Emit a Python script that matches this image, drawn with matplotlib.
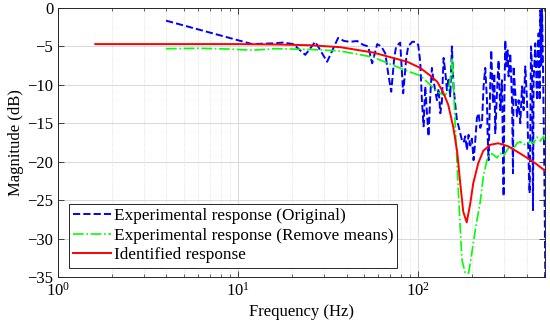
import matplotlib
matplotlib.use("Agg")
import matplotlib.pyplot as plt
from matplotlib.ticker import LogLocator, NullFormatter

plt.rcParams["font.family"] = ["Liberation Serif", "DejaVu Serif"]
plt.rcParams["mathtext.fontset"] = "stix"
plt.rcParams["axes.unicode_minus"] = True

# Experimental response (Original)
freq_orig = [
    3.98, 11.97, 13.6, 15.6, 17.8, 20.2, 23.6, 26.8, 31.2, 35.9, 38.8, 41.9, 45.8,
    49.5, 52.7, 55.5, 59.2, 62.3, 65.6, 68.1, 70.8, 73.6, 75.4, 79.4, 82.5, 85.8,
    88.0, 92.6, 96.2, 100.0, 102.6, 104.8, 107.1, 109.4, 111.7, 114.1, 116.6, 119.1,
    121.6, 127.0, 129.8, 132.6, 135.3, 138.3, 141.3, 144.3, 147.3, 150.6, 153.8,
    157.0, 160.6, 164.0, 167.5, 171.1, 174.9, 178.6, 182.4, 186.4, 190.3, 194.5,
    198.6, 202.9, 207.3, 211.8, 216.3, 221.0, 225.9, 230.6, 235.6, 240.8, 242.7,
    245.8, 251.2, 254.4, 260.0, 264.4, 267.8, 273.6, 279.3, 285.4, 291.7, 297.8,
    300.5, 304.3, 308.3, 313.4, 317.5, 324.4, 331.6, 335.9, 338.4, 345.9, 353.4,
    360.8, 368.7, 376.8, 384.6, 393.0, 401.7, 410.0, 415.3, 419.0, 422.8, 428.3,
    433.8, 437.1, 446.7, 456.5, 460.0, 465.9, 471.9, 476.2, 482.3, 486.7, 493.0,
    501.2, 507.6,
]
mag_orig = [
    -1.65, -4.7, -4.65, -4.6, -4.5, -4.7, -6.1, -4.4, -7.0, -3.9, -4.3, -4.4, -4.3,
    -4.8, -5.0, -7.2, -4.7, -5.0, -5.9, -8.5, -10.9, -6.5, -5.0, -4.5, -11.1, -6.5,
    -5.0, -4.4, -4.4, -4.8, -7.0, -12.0, -15.4, -10.2, -13.5, -16.7, -11.5, -7.8,
    -9.5, -12.0, -10.5, -13.7, -12.2, -6.5, -8.3, -10.7, -9.1, -11.5, -5.0,
    -10.2, -12.6, -14.6, -15.4, -16.3, -17.2, -17.5, -16.7, -18.5, -16.5, -17.9,
    -17.0, -19.8, -17.3, -14.3, -13.7, -15.6, -15.0, -10.2, -7.8, -12.0, -16.3,
    -19.8, -9.8, -5.5, -12.4, -8.5, -16.3, -11.1, -6.8, -13.3, -9.4, -24.5,
    -12.8, -4.2, -7.6, -5.5, -8.9, -5.9, -12.0, -21.5, -7.6, -11.1, -14.1,
    -12.0, -15.0, -10.2, -13.3, -7.6, -12.0, -19.8, -24.1, -16.3, -5.0, -7.6,
    -26.3, -9.4, -4.6, -12.0, -6.8, -3.3, -12.0, -0.3, -7.6, 0.5, -7.6,
    -20.6, -35.0,
]

# Experimental response (Remove means)
freq_rm = [
    3.98, 6.15, 9.03, 11.97, 16.1, 25.1, 36.9, 56.2, 69.9, 86.9, 102.6, 116.6,
    129.2, 140.6, 146.8, 152.2, 154.5, 160.6, 167.5, 174.9, 182.4, 190.3, 194.5,
    207.3, 221.0, 229.6, 240.8, 251.2, 262.0, 273.6, 285.4, 297.8, 310.8, 324.4,
    338.4, 353.4, 368.7, 384.6, 401.7, 419.0, 437.1, 456.5, 476.2, 497.0, 507.6,
]
mag_rm = [
    -5.3, -5.25, -5.35, -5.5, -5.3, -5.4, -5.6, -6.4, -7.3, -8.2, -8.8, -10.0,
    -11.0, -11.4, -10.8, -8.5, -6.5, -15.5, -24.5, -32.8, -34.5, -34.5, -33.2,
    -28.9, -25.2, -22.0, -19.8, -18.9, -19.1, -19.5, -18.9, -19.3, -18.5, -18.0,
    -18.3, -17.6, -17.4, -17.8, -17.6, -17.4, -17.6, -16.8, -17.3, -16.7, -17.5,
]

# Identified response
freq_id = [
    1.61, 3.24, 10.0, 16.1, 25.1, 36.9, 56.2, 69.9, 86.9, 102.6, 116.6, 127.5,
    137.7, 146.8, 156.5, 164.7, 171.1, 177.8, 185.9, 194.3, 202.1, 215.4, 229.6,
    251.2, 278.0, 316.2, 378.2, 446.7, 507.6,
]
mag_id = [
    -4.7, -4.7, -4.7, -4.75, -4.85, -5.1, -5.8, -6.4, -7.0, -7.8, -8.8, -9.6,
    -11.0, -12.6, -15.5, -18.8, -22.8, -26.5, -27.9, -25.5, -22.8, -20.2, -18.6,
    -17.8, -17.6, -18.0, -19.1, -20.2, -21.2,
]

fig = plt.figure(figsize=(5.5, 3.32), dpi=100)
ax = fig.add_axes([0.1055, 0.1657, 0.8855, 0.8103])

ax.semilogx(freq_orig, mag_orig, "--", color="#0000FF", lw=1.4,
            label="Experimental response (Original)")
ax.semilogx(freq_rm, mag_rm, "-.", color="#00FF00", lw=1.2,
            label="Experimental response (Remove means)")
ax.semilogx(freq_id, mag_id, "-", color="#FF0000", lw=1.4,
            label="Identified response")

ax.set_xlim(1, 506)
ax.set_ylim(-35, 0)
ax.set_yticks(range(-35, 1, 5))
ax.xaxis.set_major_locator(LogLocator(base=10, numticks=5))
ax.xaxis.set_minor_locator(LogLocator(base=10, subs=range(2, 10), numticks=20))
ax.xaxis.set_minor_formatter(NullFormatter())

ax.grid(True, which="major", color="#d9d9d9", lw=0.7, ls="-")
ax.grid(True, which="minor", axis="x", color="#d9d9d9", lw=0.6, ls=":")
ax.set_axisbelow(True)

ax.tick_params(which="both", direction="in", top=True, right=True,
               labelsize=12, colors="#262626", labelcolor="black")
ax.tick_params(which="major", length=4, width=0.6)
ax.tick_params(which="minor", length=2, width=0.5)
for spine in ax.spines.values():
    spine.set_color("#262626")
    spine.set_linewidth(0.7)

ax.set_xlabel("Frequency (Hz)", fontsize=12, labelpad=3)
ax.set_ylabel("Magnitude (dB)", fontsize=12, labelpad=2)

leg = ax.legend(loc="lower left", bbox_to_anchor=(0.022, 0.035), borderaxespad=0,
                fontsize=12.4, handlelength=2.2, handletextpad=0.15, labelspacing=0.2,
                borderpad=0.25, fancybox=False, framealpha=1, edgecolor="#262626")
leg.get_frame().set_linewidth(0.7)

fig.savefig("out.png", dpi=100)
